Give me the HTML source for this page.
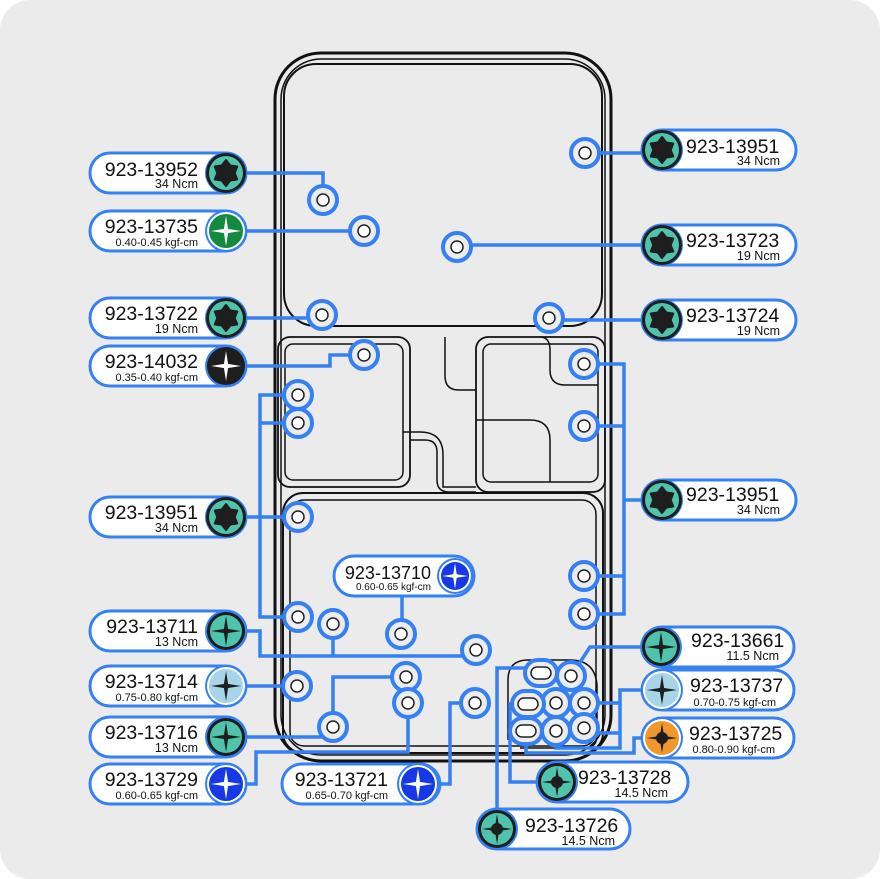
<!DOCTYPE html>
<html><head><meta charset="utf-8"><style>
html,body{margin:0;padding:0;background:#fff}
svg{display:block}
text{font-family:"Liberation Sans",sans-serif;fill:#111}
.m{font-size:19.5px}
.s{font-size:12.5px}
.t{font-size:11px}
</style></head><body>
<svg width="880" height="879" viewBox="0 0 880 879" xmlns="http://www.w3.org/2000/svg">
<defs>
<g id="torx"><circle r="20" fill="#1e1e1e"/><circle r="17" fill="#4fc3ab"/><polygon transform="rotate(90)" points="13,0 7.5,4.3 6.5,11.26 0,8.7 -6.5,11.26 -7.5,4.3 -13,0 -7.5,-4.3 -6.5,-11.26 0,-8.7 6.5,-11.26 7.5,-4.3" fill="#1e1e1e" stroke="#1e1e1e" stroke-width="2" stroke-linejoin="round"/></g>
<g id="ph"><path d="M-15,0L0,-2.4L15,0L0,2.4Z M0,-15L2.4,0L0,15L-2.4,0Z" fill="#fff"/></g>
<g id="phb"><path d="M-15,0L0,-2.4L15,0L0,2.4Z M0,-15L2.4,0L0,15L-2.4,0Z" fill="#1e1e1e"/></g>
<g id="hole"><circle r="14" fill="#ececec" stroke="#3580f3" stroke-width="4"/><circle r="6" fill="#fff" stroke="#222" stroke-width="1.5"/></g>
</defs>
<rect x="0" y="0" width="880" height="879" rx="30" fill="#ebebeb"/>

<g fill="none" stroke="#111">
<rect x="275" y="53" width="336" height="708" rx="46" stroke-width="3"/>
<rect x="281" y="59" width="324" height="696" rx="40" stroke-width="1.5"/>
<rect x="284" y="64" width="318" height="262" rx="32" stroke-width="2"/>
<rect x="278" y="337" width="132" height="150" rx="12" stroke-width="1.8"/>
<rect x="285" y="344" width="118" height="136" rx="8" stroke-width="1.5"/>
<rect x="476" y="337" width="129" height="155" rx="12" stroke-width="1.8"/>
<rect x="483" y="344" width="115" height="138" rx="8" stroke-width="1.5"/>
<path d="M410,440 H425 Q437,440 437,452 V480 Q437,492 449,492 H476" stroke-width="1.5"/>
<path d="M403,432 H420 Q443,432 443,455 V487 H476" stroke-width="1.5"/>
<path d="M445,337 V376 Q445,390 459,390 H476" stroke-width="1.5"/>
<path d="M540,337 Q550,337 550,350 V370 Q550,385 565,385 H598" stroke-width="1.5"/>
<path d="M476,420 H530 Q550,420 550,440 V482" stroke-width="1.5"/>
<rect x="283" y="493" width="320" height="260" rx="20" stroke-width="2"/>
<rect x="290" y="500" width="306" height="246" rx="14" stroke-width="1.5"/>
<path d="M508,740 V680 Q508,660 528,660 H570 Q595,660 597,685 V735 Q597,748 585,748 H520" stroke-width="1.5"/>
</g>

<g fill="none" stroke="#3580f3" stroke-width="3.5">
<path d="M246,173 H323 V200"/>
<path d="M246,231 H364"/>
<path d="M246,318 H322"/>
<path d="M246,366 H330 V355 H364"/>
<path d="M246,517 H298"/>
<path d="M298,395 H260 V617 H298 M260,423 H298"/>
<path d="M246,631 H260 V656 H476 M333,624 V656"/>
<path d="M246,686 H297"/>
<path d="M246,737 H333 M333,727 V677 H406"/>
<path d="M246,784 H256 V752 H408 V703"/>
<path d="M402,596 V634"/>
<path d="M440,784 H450 V703 H475"/>
<path d="M642,153 H585"/>
<path d="M642,245 H457"/>
<path d="M642,320 H549"/>
<path d="M642,500 H624 M584,364 H624 V614 H584 M584,426 H624 M584,576 H624"/>
<path d="M642,647 H590 L571,676"/>
<path d="M642,690 H620 V733 H584 M584,703 H620 M620,733 V748 H556 V731"/>
<path d="M642,738 H634 V753 H526 V731"/>
<path d="M537,782 H510 V704 H528"/>
<path d="M497,829 V668 H541"/>
</g>

<g>
<use href="#hole" transform="translate(323,200)"/>
<use href="#hole" transform="translate(364,231)"/>
<use href="#hole" transform="translate(322,315)"/>
<use href="#hole" transform="translate(364,355)"/>
<use href="#hole" transform="translate(298,395)"/>
<use href="#hole" transform="translate(298,423)"/>
<use href="#hole" transform="translate(298,517)"/>
<use href="#hole" transform="translate(298,617)"/>
<use href="#hole" transform="translate(333,624)"/>
<use href="#hole" transform="translate(401,634)"/>
<use href="#hole" transform="translate(476,650)"/>
<use href="#hole" transform="translate(297,686)"/>
<use href="#hole" transform="translate(406,677)"/>
<use href="#hole" transform="translate(408,703)"/>
<use href="#hole" transform="translate(475,703)"/>
<use href="#hole" transform="translate(333,727)"/>
<use href="#hole" transform="translate(585,153)"/>
<use href="#hole" transform="translate(457,247)"/>
<use href="#hole" transform="translate(549,318)"/>
<use href="#hole" transform="translate(584,364)"/>
<use href="#hole" transform="translate(584,426)"/>
<use href="#hole" transform="translate(584,576)"/>
<use href="#hole" transform="translate(584,614)"/>
<use href="#hole" transform="translate(571,676)"/>
<use href="#hole" transform="translate(556,703)"/>
<use href="#hole" transform="translate(584,703)"/>
<use href="#hole" transform="translate(556,731)"/>
<use href="#hole" transform="translate(584,728)"/>
</g>
<g stroke="#3580f3" stroke-width="4" fill="#ececec">
<rect x="525" y="660" width="32" height="26" rx="13"/>
<rect x="512" y="691" width="32" height="26" rx="13"/>
<rect x="510" y="718" width="32" height="26" rx="13"/>
</g>
<g stroke="#222" stroke-width="1.5" fill="#fff">
<rect x="531" y="667" width="20" height="12" rx="6"/>
<rect x="518" y="698" width="20" height="12" rx="6"/>
<rect x="516" y="725" width="20" height="12" rx="6"/>
</g>

<g fill="#fff" stroke="#3580f3" stroke-width="3">
<rect x="90" y="153" width="156" height="40" rx="20"/>
<rect x="90" y="211" width="156" height="40" rx="20"/>
<rect x="90" y="298" width="156" height="40" rx="20"/>
<rect x="90" y="346" width="156" height="40" rx="20"/>
<rect x="90" y="497" width="156" height="40" rx="20"/>
<rect x="90" y="611" width="156" height="40" rx="20"/>
<rect x="90" y="666" width="156" height="40" rx="20"/>
<rect x="90" y="717" width="156" height="40" rx="20"/>
<rect x="90" y="764" width="156" height="40" rx="20"/>
<rect x="334" y="556" width="140" height="40" rx="20"/>
<rect x="282" y="764" width="158" height="40" rx="20"/>
<rect x="642" y="130" width="154" height="40" rx="20"/>
<rect x="642" y="225" width="154" height="40" rx="20"/>
<rect x="642" y="300" width="154" height="40" rx="20"/>
<rect x="642" y="480" width="154" height="40" rx="20"/>
<rect x="642" y="627" width="152" height="40" rx="20"/>
<rect x="642" y="670" width="152" height="40" rx="20"/>
<rect x="642" y="718" width="152" height="40" rx="20"/>
<rect x="537" y="762" width="151" height="40" rx="20"/>
<rect x="477" y="809" width="153" height="40" rx="20"/>
</g>

<g>
<circle cx="226" cy="173" r="21" fill="#3580f3"/><use href="#torx" transform="translate(226,173)"/>
<circle cx="226" cy="231" r="21" fill="#3580f3"/><circle cx="226" cy="231" r="19" fill="#fff"/><circle cx="226" cy="231" r="17" fill="#138a3f"/><use href="#ph" transform="translate(226,231)"/>
<circle cx="226" cy="318" r="21" fill="#3580f3"/><use href="#torx" transform="translate(226,318)"/>
<circle cx="226" cy="366" r="21" fill="#3580f3"/><circle cx="226" cy="366" r="19" fill="#1e1e1e"/><use href="#ph" transform="translate(226,366)"/>
<circle cx="226" cy="517" r="21" fill="#3580f3"/><use href="#torx" transform="translate(226,517)"/>
<circle cx="226" cy="631" r="21" fill="#3580f3"/><circle cx="226" cy="631" r="19" fill="#1e1e1e"/><circle cx="226" cy="631" r="16" fill="#4fc3ab"/><use href="#phb" transform="translate(226,631)"/>
<circle cx="226" cy="686" r="21" fill="#3580f3"/><circle cx="226" cy="686" r="19" fill="#fff"/><circle cx="226" cy="686" r="17" fill="#a8d4e8"/><use href="#phb" transform="translate(226,686)"/>
<circle cx="226" cy="737" r="21" fill="#3580f3"/><circle cx="226" cy="737" r="19" fill="#1e1e1e"/><circle cx="226" cy="737" r="16" fill="#4fc3ab"/><use href="#phb" transform="translate(226,737)"/>
<circle cx="226" cy="784" r="21" fill="#3580f3"/><circle cx="226" cy="784" r="19" fill="#fff"/><circle cx="226" cy="784" r="17" fill="#1738e6"/><use href="#ph" transform="translate(226,784)"/>
<circle cx="455" cy="576" r="18" fill="#3580f3"/><circle cx="455" cy="576" r="16" fill="#fff"/><circle cx="455" cy="576" r="14" fill="#1738e6"/><use href="#ph" transform="translate(455,576) scale(0.85)"/>
<circle cx="418" cy="784" r="21" fill="#3580f3"/><circle cx="418" cy="784" r="19" fill="#fff"/><circle cx="418" cy="784" r="17" fill="#1738e6"/><use href="#ph" transform="translate(418,784)"/>
<circle cx="662" cy="150" r="21" fill="#3580f3"/><use href="#torx" transform="translate(662,150)"/>
<circle cx="662" cy="245" r="21" fill="#3580f3"/><use href="#torx" transform="translate(662,245)"/>
<circle cx="662" cy="320" r="21" fill="#3580f3"/><use href="#torx" transform="translate(662,320)"/>
<circle cx="662" cy="500" r="21" fill="#3580f3"/><use href="#torx" transform="translate(662,500)"/>
<circle cx="661" cy="647" r="21" fill="#3580f3"/><circle cx="661" cy="647" r="19" fill="#1e1e1e"/><circle cx="661" cy="647" r="16" fill="#4fc3ab"/><use href="#phb" transform="translate(661,647)"/>
<circle cx="662" cy="690" r="21" fill="#3580f3"/><circle cx="662" cy="690" r="19" fill="#fff"/><circle cx="662" cy="690" r="17" fill="#a8d4e8"/><use href="#phb" transform="translate(662,690)"/>
<circle cx="662" cy="738" r="21" fill="#3580f3"/><circle cx="662" cy="738" r="19" fill="#fff"/><circle cx="662" cy="738" r="17" fill="#f0992a"/><use href="#phb" transform="translate(662,738)"/><circle cx="662" cy="738" r="6" fill="#1e1e1e"/>
<circle cx="557" cy="782" r="21" fill="#3580f3"/><circle cx="557" cy="782" r="19" fill="#1e1e1e"/><circle cx="557" cy="782" r="16" fill="#4fc3ab"/><use href="#phb" transform="translate(557,782)"/><circle cx="557" cy="782" r="6" fill="#1e1e1e"/>
<circle cx="497" cy="829" r="21" fill="#3580f3"/><circle cx="497" cy="829" r="19" fill="#1e1e1e"/><circle cx="497" cy="829" r="16" fill="#4fc3ab"/><use href="#phb" transform="translate(497,829)"/><circle cx="497" cy="829" r="6" fill="#1e1e1e"/>
</g>

<g text-anchor="end">
<text class="m" x="198" y="176">923-13952</text><text class="s" x="198" y="188">34 Ncm</text>
<text class="m" x="198" y="233">923-13735</text><text class="t" x="198" y="246">0.40-0.45 kgf-cm</text>
<text class="m" x="198" y="320">923-13722</text><text class="s" x="198" y="333">19 Ncm</text>
<text class="m" x="198" y="368">923-14032</text><text class="t" x="198" y="381">0.35-0.40 kgf-cm</text>
<text class="m" x="198" y="519">923-13951</text><text class="s" x="198" y="532">34 Ncm</text>
<text class="m" x="198" y="633">923-13711</text><text class="s" x="198" y="646">13 Ncm</text>
<text class="m" x="198" y="688">923-13714</text><text class="t" x="198" y="701">0.75-0.80 kgf-cm</text>
<text class="m" x="198" y="739">923-13716</text><text class="s" x="198" y="752">13 Ncm</text>
<text class="m" x="198" y="786">923-13729</text><text class="t" x="198" y="799">0.60-0.65 kgf-cm</text>
<text class="m" x="431" y="579" style="font-size:18px">923-13710</text><text class="t" x="431" y="590" style="font-size:10px">0.60-0.65 kgf-cm</text>
<text class="m" x="388" y="786">923-13721</text><text class="t" x="388" y="799">0.65-0.70 kgf-cm</text>
</g>
<g>
<text class="m" x="686" y="153">923-13951</text><text class="s" x="780" y="165" text-anchor="end">34 Ncm</text>
<text class="m" x="686" y="247">923-13723</text><text class="s" x="780" y="260" text-anchor="end">19 Ncm</text>
<text class="m" x="686" y="322">923-13724</text><text class="s" x="780" y="335" text-anchor="end">19 Ncm</text>
<text class="m" x="686" y="501">923-13951</text><text class="s" x="780" y="514" text-anchor="end">34 Ncm</text>
<text class="m" x="691" y="647">923-13661</text><text class="s" x="779" y="660" text-anchor="end">11.5 Ncm</text>
<text class="m" x="690" y="692">923-13737</text><text class="t" x="776" y="706" text-anchor="end">0.70-0.75 kgf-cm</text>
<text class="m" x="689" y="740">923-13725</text><text class="t" x="775" y="753" text-anchor="end">0.80-0.90 kgf-cm</text>
<text class="m" x="578" y="784">923-13728</text><text class="s" x="668" y="797" text-anchor="end">14.5 Ncm</text>
<text class="m" x="525" y="832">923-13726</text><text class="s" x="615" y="845" text-anchor="end">14.5 Ncm</text>
</g>
</svg>
</body></html>
